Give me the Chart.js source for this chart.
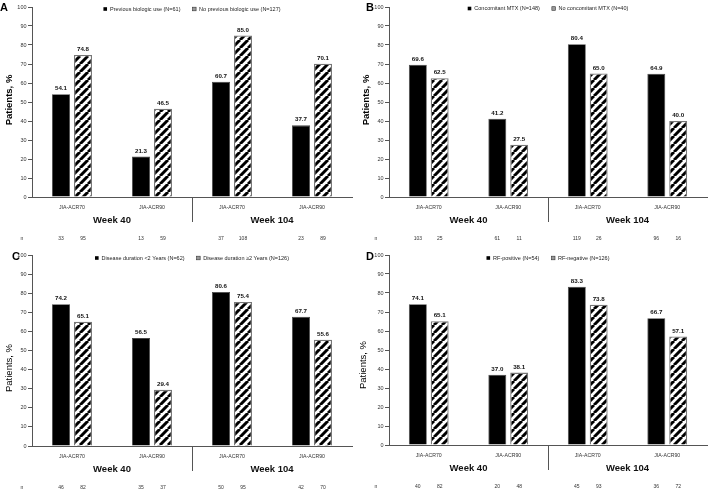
<!DOCTYPE html>
<html>
<head>
<meta charset="utf-8">
<title>JIA-ACR70 / JIA-ACR90 response by subgroup</title>
<script src="https://cdn.jsdelivr.net/npm/chart.js@4.4.1/dist/chart.umd.min.js"></script>
<style>
  html, body { margin: 0; padding: 0; background: #fff; }
  canvas { position: absolute; }
</style>
</head>
<body>
<canvas id="panelA" style="left:0;top:0" width="354" height="245"></canvas>
<canvas id="panelB" style="left:354px;top:0" width="355" height="245"></canvas>
<canvas id="panelC" style="left:0;top:245px" width="354" height="246"></canvas>
<canvas id="panelD" style="left:354px;top:245px" width="355" height="246"></canvas>
<script>
// ---- data ----
const categories = ['JIA-ACR70', 'JIA-ACR90', 'JIA-ACR70', 'JIA-ACR90'];
const weekLabels = ['Week 40', 'Week 104'];
const yMin = 0, yMax = 100, yStep = 10;

// A - previous biologic use
const prevBioLabel = 'Previous biologic use (N=61)';
const noPrevBioLabel = 'No previous biologic use (N=127)';
const prevBio = [54.1, 21.3, 60.7, 37.7];
const noPrevBio = [74.8, 46.5, 85.0, 70.1];
const prevBioN = [33, 13, 37, 23];
const noPrevBioN = [95, 59, 108, 89];

// B - concomitant MTX
const mtxLabel = 'Concomitant MTX (N=148)';
const noMtxLabel = 'No concomitant MTX (N=40)';
const mtx = [69.6, 41.2, 80.4, 64.9];
const noMtx = [62.5, 27.5, 65.0, 40.0];
const mtxN = [103, 61, 119, 96];
const noMtxN = [25, 11, 26, 16];

// C - disease duration
const shortDurLabel = 'Disease duration <2 Years (N=62)';
const longDurLabel = 'Disease duration \u22652 Years (N=126)';
const shortDur = [74.2, 56.5, 80.6, 67.7];
const longDur = [65.1, 29.4, 75.4, 55.6];
const shortDurN = [46, 35, 50, 42];
const longDurN = [82, 37, 95, 70];

// D - RF status
const rfPosLabel = 'RF-positive (N=54)';
const rfNegLabel = 'RF-negative (N=126)';
const rfPos = [74.1, 37.0, 83.3, 66.7];
const rfNeg = [65.1, 38.1, 73.8, 57.1];
const rfPosN = [40, 20, 45, 36];
const rfNegN = [82, 48, 93, 72];

const FONT = 'Arial, "Liberation Sans", Helvetica, sans-serif';

// diagonal hatch for the second series
function makeHatch() {
    const s = 8;
    const c = document.createElement('canvas');
    c.width = s; c.height = s;
    const g = c.getContext('2d');
    g.fillStyle = '#fff';
    g.fillRect(0, 0, s, s);
    g.strokeStyle = '#000';
    g.lineWidth = 3;
    g.beginPath();
    for (const o of [-s, 0, s]) {
        g.moveTo(o, s);
        g.lineTo(o + s, 0);
    }
    g.stroke();
    return g.createPattern(c, 'repeat');
}

// letters, legend, value labels, week labels, divider and n row
const panelDecor = {
    id: 'panelDecor',
    afterDatasetsDraw(chart, args, p) {
        const ctx = chart.ctx;
        ctx.save();
        ctx.fillStyle = '#111';
        ctx.font = 'bold 6.2px ' + FONT;
        ctx.textAlign = 'center';
        ctx.textBaseline = 'alphabetic';
        chart.data.datasets.forEach((ds, di) => {
            chart.getDatasetMeta(di).data.forEach((bar, i) => {
                ctx.fillText(ds.data[i].toFixed(1), bar.x, bar.y - 4);
            });
        });
        ctx.restore();
    },
    afterDraw(chart, args, p) {
        const {ctx, chartArea, scales: {x}} = chart;
        ctx.save();

        // panel letter
        ctx.fillStyle = '#000';
        ctx.font = 'bold 11px ' + FONT;
        ctx.textAlign = 'left';
        ctx.textBaseline = 'alphabetic';
        ctx.fillText(p.letter, p.letterX, p.letterY);

        // y title
        ctx.save();
        ctx.translate(p.titleX, p.titleY);
        ctx.rotate(-Math.PI / 2);
        ctx.font = (p.titleBold ? 'bold ' : '') + '9.5px ' + FONT;
        ctx.textAlign = 'center';
        ctx.textBaseline = 'middle';
        ctx.fillText('Patients, %', 0, 0);
        ctx.restore();

        // legend
        ctx.font = '5.5px ' + FONT;
        ctx.textBaseline = 'middle';
        const box = 3.6, gapText = 3, gapItem = 12;
        const w0 = ctx.measureText(p.legend[0]).width;
        const w1 = ctx.measureText(p.legend[1]).width;
        const total = box + gapText + w0 + gapItem + box + gapText + w1;
        let lx = (chartArea.left + chartArea.right) / 2 - total / 2;
        const ly = p.legendY;
        ctx.fillStyle = '#000';
        ctx.fillRect(lx, ly - box / 2, box, box);
        ctx.fillStyle = '#222';
        ctx.fillText(p.legend[0], lx + box + gapText, ly);
        lx += box + gapText + w0 + gapItem;
        ctx.fillStyle = '#999';
        ctx.fillRect(lx, ly - box / 2, box, box);
        ctx.strokeStyle = '#333';
        ctx.lineWidth = 0.6;
        ctx.strokeRect(lx, ly - box / 2, box, box);
        ctx.fillStyle = '#222';
        ctx.fillText(p.legend[1], lx + box + gapText, ly);

        // divider between weeks
        const midX = Math.round((x.getPixelForValue(1) + x.getPixelForValue(2)) / 2) + 0.5;
        ctx.strokeStyle = '#555';
        ctx.lineWidth = 1;
        ctx.beginPath();
        ctx.moveTo(midX, chartArea.bottom);
        ctx.lineTo(midX, chartArea.bottom + 25);
        ctx.stroke();

        // week labels
        ctx.fillStyle = '#111';
        ctx.font = 'bold 9.5px ' + FONT;
        ctx.textAlign = 'center';
        ctx.textBaseline = 'middle';
        weekLabels.forEach((w, k) => {
            const cx = (x.getPixelForValue(2 * k) + x.getPixelForValue(2 * k + 1)) / 2;
            ctx.fillText(w, cx, chartArea.bottom + 23);
        });

        // n row
        ctx.font = '5px ' + FONT;
        ctx.fillStyle = '#333';
        const ny = chartArea.bottom + 42;
        ctx.fillText('n', 22, ny);
        p.counts.forEach((arr, di) => {
            chart.getDatasetMeta(di).data.forEach((bar, i) => {
                ctx.fillText(String(arr[i]), bar.x, ny);
            });
        });

        ctx.restore();
    }
};

const hatch = makeHatch();

function makePanel(id, p) {
    const canvas = document.getElementById(id);
    const W = canvas.width, H = canvas.height;
    return new Chart(canvas, {
        type: 'bar',
        data: {
            labels: categories,
            datasets: [
                {
                    label: p.legend[0],
                    data: p.series[0],
                    backgroundColor: '#000',
                    borderColor: '#444',
                    borderWidth: 0.8,
                    categoryPercentage: 0.55,
                    barPercentage: 0.82
                },
                {
                    label: p.legend[1],
                    data: p.series[1],
                    backgroundColor: hatch,
                    borderColor: '#777',
                    borderWidth: 1.3,
                    categoryPercentage: 0.55,
                    barPercentage: 0.82
                }
            ]
        },
        options: {
            responsive: false,
            animation: false,
            layout: { padding: { left: 0, right: W - p.right, top: p.top, bottom: 0 } },
            plugins: {
                legend: { display: false },
                tooltip: { enabled: false },
                panelDecor: p
            },
            scales: {
                x: {
                    grid: { display: false, drawTicks: false },
                    border: { display: true, color: '#555', width: 1 },
                    ticks: { color: '#333', font: { family: FONT, size: 5.2 }, padding: 7, maxRotation: 0, autoSkip: false },
                    afterFit(scale) { scale.height = H - p.bottom; }
                },
                y: {
                    min: yMin,
                    max: yMax,
                    grid: { drawOnChartArea: false, drawTicks: true, tickLength: 4, color: '#555' },
                    border: { display: true, color: '#555', width: 1 },
                    ticks: { stepSize: yStep, color: '#333', font: { family: FONT, size: 5.5 }, padding: 1.5 },
                    afterFit(scale) { scale.width = p.left; }
                }
            }
        },
        plugins: [panelDecor]
    });
}

makePanel('panelA', {
    letter: 'A', letterX: 0, letterY: 11,
    titleX: 9, titleY: 100, titleBold: true,
    legend: [prevBioLabel, noPrevBioLabel], legendY: 9,
    series: [prevBio, noPrevBio], counts: [prevBioN, noPrevBioN],
    left: 32, right: 352, top: 7, bottom: 197
});
makePanel('panelB', {
    letter: 'B', letterX: 12, letterY: 11,
    titleX: 12, titleY: 100, titleBold: true,
    legend: [mtxLabel, noMtxLabel], legendY: 8.5,
    series: [mtx, noMtx], counts: [mtxN, noMtxN],
    left: 35, right: 353, top: 7, bottom: 197
});
makePanel('panelC', {
    letter: 'C', letterX: 12, letterY: 15,
    titleX: 9, titleY: 123, titleBold: false,
    legend: [shortDurLabel, longDurLabel], legendY: 13,
    series: [shortDur, longDur], counts: [shortDurN, longDurN],
    left: 32, right: 352, top: 10, bottom: 201
});
makePanel('panelD', {
    letter: 'D', letterX: 12, letterY: 15,
    titleX: 9, titleY: 120, titleBold: false,
    legend: [rfPosLabel, rfNegLabel], legendY: 13,
    series: [rfPos, rfNeg], counts: [rfPosN, rfNegN],
    left: 35, right: 353, top: 10, bottom: 200
});
</script>
</body>
</html>
